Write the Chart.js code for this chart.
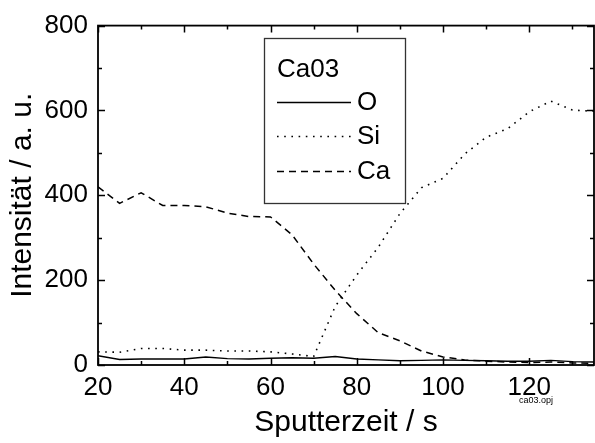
<!DOCTYPE html>
<html>
<head>
<meta charset="utf-8">
<script src="https://cdn.jsdelivr.net/npm/chart.js@4/dist/chart.umd.min.js"></script>
<style>
  html, body { margin: 0; padding: 0; background: #fff; }
  #wrap { width: 595px; height: 443px; }
</style>
</head>
<body>
<div id="wrap"><canvas id="depth_profile" width="595" height="443"></canvas></div>
<script>
// sputter time in s
var times = [20, 25, 30, 35, 40, 45, 50, 55, 60, 65, 70, 75, 80, 85, 90, 95, 100, 105, 110, 115, 120, 125, 130, 135];
// intensities (a. u.)
var oValues  = [22, 13, 14, 14, 14, 19, 15, 14, 16, 17, 16, 20, 14, 12, 10, 11, 12, 11, 10, 9, 9, 11, 8, 7];
var siValues = [31, 30, 39, 39, 35, 35, 33, 33, 31, 26, 20, 138, 212, 278, 357, 418, 440, 497, 537, 557, 597, 622, 601, 598];
var caValues = [420, 381, 406, 376, 376, 373, 358, 350, 349, 307, 238, 176, 121, 76, 57, 33, 19, 12, 9, 7, 6, 7, 5, 4];

var xMajorTicks = [20, 40, 60, 80, 100, 120];
var xMinorTicks = [30, 50, 70, 90, 110, 130];
var yMajorTicks = [0, 200, 400, 600, 800];
var yMinorTicks = [100, 300, 500, 700];

var legendTitle = 'Ca03';
var fileNote = 'ca03.opj';

var FONT = '"Liberation Sans", Arial, sans-serif';

function points(vals) {
  return vals.map(function (v, i) { return { x: times[i], y: v }; });
}

// frame with inward ticks on all four sides
var framePlugin = {
  id: 'frame',
  afterDatasetsDraw: function (chart) {
    var ctx = chart.ctx, a = chart.chartArea;
    var xs = chart.scales.x, ys = chart.scales.y;
    ctx.save();
    ctx.strokeStyle = '#000';
    ctx.lineWidth = 1.8;
    ctx.strokeRect(a.left, a.top, a.right - a.left, a.bottom - a.top);
    ctx.lineWidth = 1.5;
    ctx.beginPath();
    function xt(v, len) {
      var px = Math.round(xs.getPixelForValue(v)) + 0.5;
      ctx.moveTo(px, a.bottom); ctx.lineTo(px, a.bottom - len);
      ctx.moveTo(px, a.top); ctx.lineTo(px, a.top + len);
    }
    function yt(v, len) {
      var py = Math.round(ys.getPixelForValue(v)) + 0.5;
      ctx.moveTo(a.left, py); ctx.lineTo(a.left + len, py);
      ctx.moveTo(a.right, py); ctx.lineTo(a.right - len, py);
    }
    xMajorTicks.forEach(function (v) { xt(v, 7); });
    xMinorTicks.forEach(function (v) { xt(v, 4); });
    yMajorTicks.forEach(function (v) { yt(v, 7); });
    yMinorTicks.forEach(function (v) { yt(v, 4); });
    ctx.stroke();

    ctx.fillStyle = '#000';
    ctx.font = '9px ' + FONT;
    ctx.textAlign = 'center';
    ctx.textBaseline = 'middle';
    ctx.fillText(fileNote, 536, 401);
    ctx.restore();
  }
};

// boxed legend inside the plot
var boxLegendPlugin = {
  id: 'boxLegend',
  afterDraw: function (chart) {
    var ctx = chart.ctx;
    ctx.save();
    ctx.fillStyle = '#fff';
    ctx.fillRect(264, 38, 141, 165);
    ctx.strokeStyle = '#333';
    ctx.lineWidth = 1.3;
    ctx.strokeRect(264.5, 38.5, 141, 165);
    ctx.fillStyle = '#000';
    ctx.font = '26px ' + FONT;
    ctx.textAlign = 'left';
    ctx.textBaseline = 'middle';
    ctx.fillText(legendTitle, 277, 70);
    var rows = [102, 136, 171];
    chart.data.datasets.forEach(function (ds, i) {
      var y = rows[i] + 0.5;
      ctx.strokeStyle = '#000';
      ctx.lineWidth = ds.borderWidth;
      ctx.setLineDash(ds.borderDash || []);
      ctx.beginPath();
      ctx.moveTo(277, y);
      ctx.lineTo(351, y);
      ctx.stroke();
      ctx.setLineDash([]);
      ctx.fillText(ds.label, 357, rows[i] + 1);
    });
    ctx.restore();
  }
};

var ctx = document.getElementById('depth_profile').getContext('2d');
var chart = new Chart(ctx, {
  type: 'line',
  data: {
    datasets: [
      { label: 'O',  data: points(oValues),  borderColor: '#000', borderWidth: 1.4, borderDash: [] },
      { label: 'Si', data: points(siValues), borderColor: '#000', borderWidth: 1.6, borderDash: [1.6, 5.6] },
      { label: 'Ca', data: points(caValues), borderColor: '#000', borderWidth: 1.5, borderDash: [7, 5] }
    ]
  },
  options: {
    responsive: false,
    animation: false,
    layout: { padding: { top: 22, right: 1, left: 0, bottom: 0 } },
    elements: { point: { radius: 0 }, line: { tension: 0, fill: false } },
    plugins: { legend: { display: false }, tooltip: { enabled: false } },
    scales: {
      x: {
        type: 'linear',
        min: 20,
        max: 135,
        grid: { display: false, drawTicks: false },
        border: { display: false },
        afterBuildTicks: function (s) {
          s.ticks = xMajorTicks.map(function (v) { return { value: v }; });
        },
        afterFit: function (s) { s.height = 78; },
        ticks: { color: '#000', font: { family: FONT, size: 26 }, padding: 7, maxRotation: 0, autoSkip: false },
        title: { display: true, text: 'Sputterzeit / s', color: '#000', font: { family: FONT, size: 30 }, padding: { top: 0, bottom: 2 } }
      },
      y: {
        min: 0,
        max: 800,
        grid: { display: false, drawTicks: false },
        border: { display: false },
        afterBuildTicks: function (s) {
          s.ticks = yMajorTicks.map(function (v) { return { value: v }; });
        },
        afterFit: function (s) { s.width = 98; },
        ticks: { color: '#000', font: { family: FONT, size: 26 }, padding: 10 },
        title: { display: true, text: 'Intensität / a. u.', color: '#000', font: { family: FONT, size: 30 }, padding: { top: 5, bottom: 0 } }
      }
    }
  },
  plugins: [framePlugin, boxLegendPlugin]
});
</script>
</body>
</html>
